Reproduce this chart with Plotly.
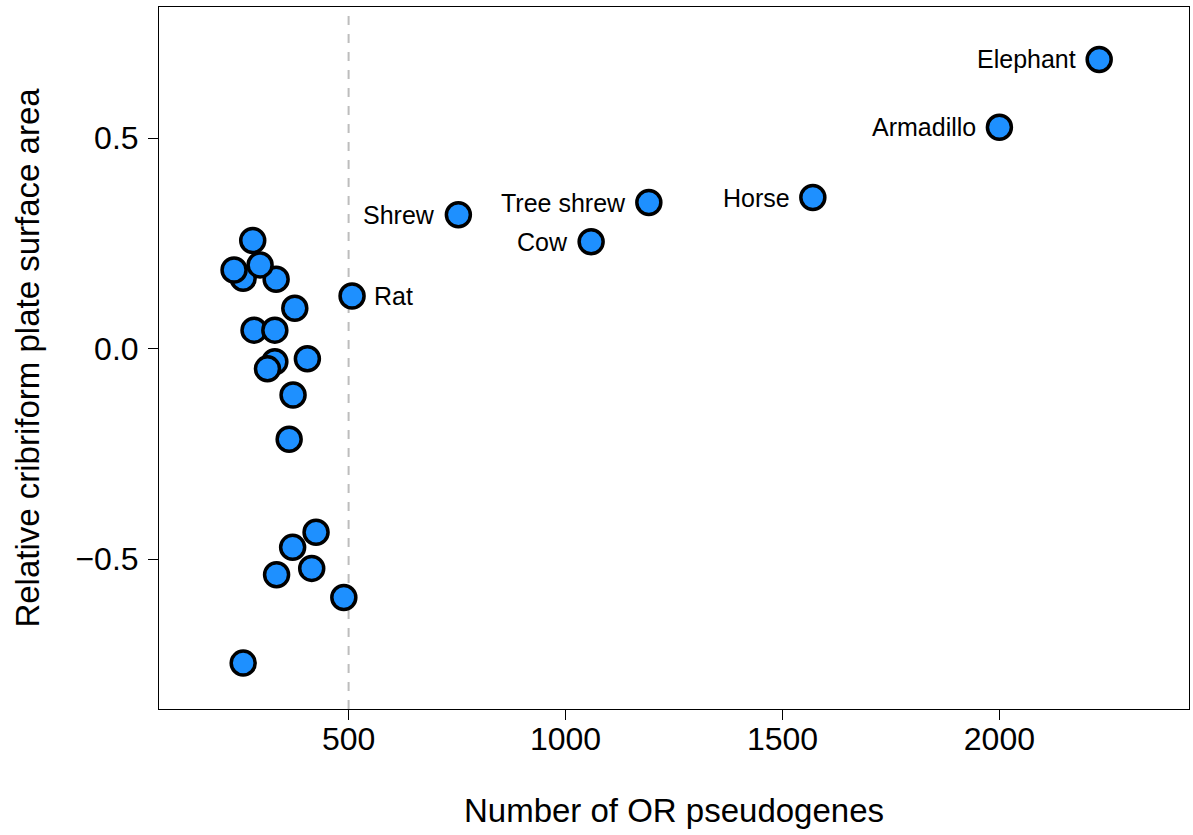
import plotly.graph_objects as go

# Unlabelled species (x: number of OR pseudogenes, y: relative cribriform plate surface area)
other_x = [257, 236, 333, 279, 296, 376, 282, 330, 405, 330, 313, 372, 363,
           425, 371, 415, 334, 489, 257]
other_y = [0.167, 0.187, 0.165, 0.257, 0.199, 0.096, 0.044, 0.044, -0.024,
           -0.031, -0.048, -0.110, -0.215, -0.436, -0.472, -0.522, -0.537,
           -0.591, -0.747]

# Labelled species
labels = ["Rat", "Shrew", "Cow", "Tree shrew", "Horse", "Armadillo", "Elephant"]
lab_x = [508, 753, 1059, 1192, 1570, 2000, 2230]
lab_y = [0.125, 0.318, 0.254, 0.347, 0.359, 0.526, 0.687]
lab_side = ["right", "left", "left", "left", "left", "left", "left"]

threshold_x = 500
x_ticks = [500, 1000, 1500, 2000]
y_ticks = [-0.5, 0.0, 0.5]
x_range = [63, 2437]
y_range = [-0.856, 0.8116]

FONT = "Liberation Sans, Arial, Helvetica, sans-serif"
marker = dict(size=24, color="#1E90FF", line=dict(color="black", width=3.5))

fig = go.Figure()
fig.add_vline(x=threshold_x, line=dict(color="#BDBDBD", width=2, dash="dash"), layer="below")
fig.add_trace(go.Scatter(x=other_x, y=other_y, mode="markers", marker=marker,
                         showlegend=False, hoverinfo="x+y"))
fig.add_trace(go.Scatter(x=lab_x, y=lab_y, mode="markers", text=labels,
                         marker=marker, showlegend=False,
                         hovertemplate="%{text}: %{x}, %{y}<extra></extra>"))

for name, xv, yv, side in zip(labels, lab_x, lab_y, lab_side):
    fig.add_annotation(x=xv, y=yv, text=name, showarrow=False,
                       xanchor="left" if side == "right" else "right",
                       yanchor="middle",
                       xshift=20 if side == "right" else -21,
                       font=dict(family=FONT, size=25, color="black"))

axis_common = dict(showline=True, linecolor="black", linewidth=1, mirror=True,
                   showgrid=False, zeroline=False, ticks="outside", ticklen=10,
                   tickwidth=1, tickcolor="black",
                   tickfont=dict(family=FONT, size=32, color="black"))

fig.update_xaxes(range=x_range, tickvals=x_ticks, ticklabelstandoff=-8, **axis_common,
                 title=dict(text="Number of OR pseudogenes",
                            font=dict(family=FONT, size=33, color="black"),
                            standoff=42))
fig.update_yaxes(range=y_range, tickvals=y_ticks, tickformat=".1f",
                 ticklabelstandoff=3, **axis_common,
                 title=dict(text="Relative cribriform plate surface area",
                            font=dict(family=FONT, size=33, color="black"),
                            standoff=25))

fig.update_layout(width=1193, height=835, plot_bgcolor="white", paper_bgcolor="white",
                  margin=dict(l=159, r=4, t=7, b=126, autoexpand=False),
                  font=dict(family=FONT, color="black"))

fig.write_html("out.html", config={"displayModeBar": False},
               post_script="document.body.style.margin='0';")
